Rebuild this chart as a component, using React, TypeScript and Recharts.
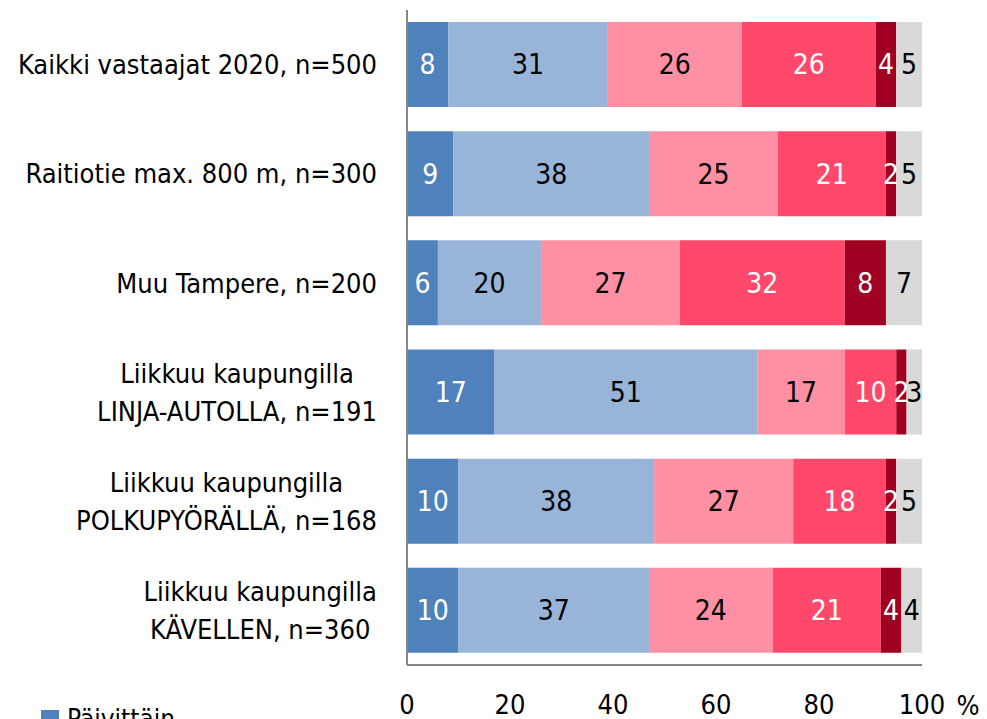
import React from 'react';
import { BarChart, Bar, XAxis, YAxis, LabelList } from 'recharts';

const categories = [
  'Kaikki vastaajat 2020, n=500',
  'Raitiotie max. 800 m, n=300',
  'Muu Tampere, n=200',
  'Liikkuu kaupungilla\nLINJA-AUTOLLA, n=191',
  'Liikkuu kaupungilla\nPOLKUPYÖRÄLLÄ, n=168',
  'Liikkuu kaupungilla\nKÄVELLEN, n=360',
];

const seriesNames = ['Päivittäin', 'Viikoittain', 'Kuukausittain', 'Harvemmin', 'Ei koskaan', 'En osaa sanoa'];
const seriesColors = ['#4f81bd', '#98b4d9', '#ff8fa3', '#ff486a', '#a00022', '#d9d9d9'];
const labelColors = ['#ffffff', '#000000', '#000000', '#ffffff', '#ffffff', '#000000'];

const daily = [8, 9, 6, 17, 10, 10];
const weekly = [31, 38, 20, 51, 38, 37];
const monthly = [26, 25, 27, 17, 27, 24];
const rarely = [26, 21, 32, 10, 18, 21];
const never = [4, 2, 8, 2, 2, 4];
const dontKnow = [5, 5, 7, 3, 5, 4];

const xTicks = [0, 20, 40, 60, 80, 100];

const seriesValues = [daily, weekly, monthly, rarely, never, dontKnow];
const keys = ['s0', 's1', 's2', 's3', 's4', 's5'];

const data = categories.map((name, i) => {
  const row: Record<string, string | number> = { name };
  keys.forEach((k, j) => {
    row[k] = seriesValues[j][i];
  });
  return row;
});

const FONT = '"Liberation Sans Narrow", "DejaVu Sans Condensed", "Open Sans", sans-serif';
const CAT_SIZE = 27;

let ctx: CanvasRenderingContext2D | null = null;
function textWidth(s: string) {
  if (!ctx) ctx = document.createElement('canvas').getContext('2d');
  if (!ctx) return s.length * CAT_SIZE * 0.45;
  ctx.font = `${CAT_SIZE}px ${FONT}`;
  return ctx.measureText(s).width;
}

const CategoryTick = (props: any) => {
  const { x, y, payload } = props;
  const lines: string[] = String(payload.value).split('\n');
  const right = x - 22;
  const block = Math.max(...lines.map(textWidth));
  const cx = right - block / 2;
  const lineH = 38;
  const startY = y - ((lines.length - 1) * lineH) / 2;
  return (
    <text fontFamily={FONT} fontSize={CAT_SIZE} fill="#000" textAnchor="middle">
      {lines.map((l, i) => (
        <tspan key={i} x={cx} y={startY + i * lineH} dy="0.36em">
          {l}
        </tspan>
      ))}
    </text>
  );
};

const PercentLabel = (props: any) => {
  const { viewBox } = props;
  return (
    <text x={viewBox.x + viewBox.width + 46} y={viewBox.y + 40} dy="0.36em" fontFamily={FONT} fontSize={27} fill="#000" textAnchor="middle">
      %
    </text>
  );
};

export default function App() {
  return (
    <div style={{ position: 'absolute', left: 0, top: 0, width: 987, height: 719, overflow: 'hidden', background: '#fff' }}>
      <BarChart layout="vertical" width={987} height={719} data={data} margin={{ top: 10, right: 65, left: 0, bottom: 0 }}>
        <XAxis
          type="number"
          domain={[0, 100]}
          ticks={xTicks}
          interval={0}
          height={54}
          axisLine={{ stroke: '#868686', strokeWidth: 2 }}
          tickLine={false}
          tickSize={0}
          tickMargin={30}
          tick={{ fill: '#000', fontSize: 27, fontFamily: FONT }}
          label={<PercentLabel />}
        />
        <YAxis
          type="category"
          dataKey="name"
          width={407}
          axisLine={{ stroke: '#868686', strokeWidth: 2 }}
          tickLine={false}
          tick={<CategoryTick />}
          interval={0}
        />
        {keys.map((k, j) => (
          <Bar key={k} dataKey={k} name={seriesNames[j]} stackId="a" fill={seriesColors[j]} barSize={85} isAnimationActive={false}>
            <LabelList dataKey={k} position="center" fill={labelColors[j]} fontSize={28} fontFamily={FONT} />
          </Bar>
        ))}
      </BarChart>
      <div style={{ position: 'absolute', left: 41, top: 700, fontFamily: FONT, fontSize: 26, color: '#000' }}>
        {seriesNames.map((n, j) => (
          <div key={n} style={{ display: 'flex', alignItems: 'center', height: 38 }}>
            <span style={{ display: 'inline-block', width: 18, height: 18, background: seriesColors[j], marginRight: 8 }} />
            {n}
          </div>
        ))}
      </div>
    </div>
  );
}
